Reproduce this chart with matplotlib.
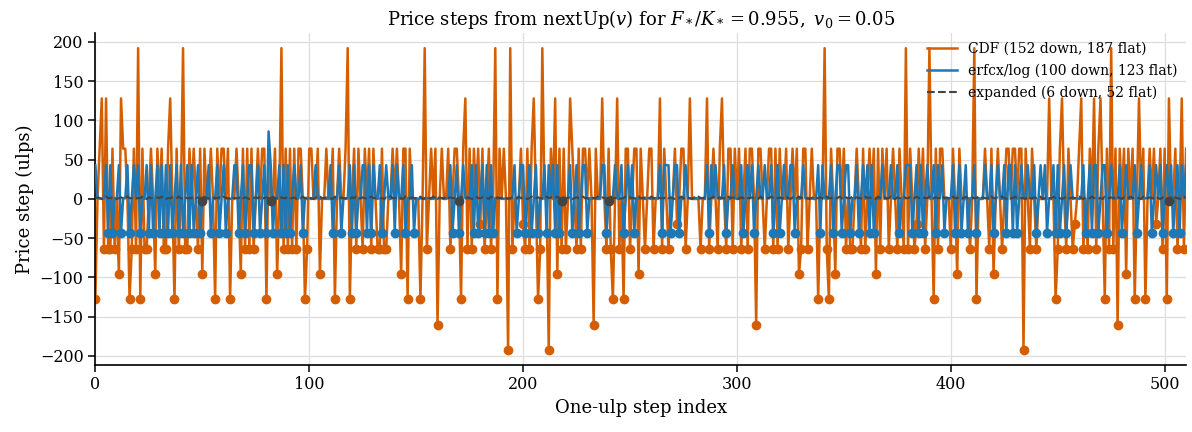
import numpy as np
import matplotlib
matplotlib.use("Agg")
import matplotlib.pyplot as plt

# step values in ulps, one per one-ulp step of v
cdf_steps = [
    -128, 0, 64, 128, -64, 128, -64, -64, 64, -64, 0, -96, 128, 64, 64, 0, -128, -64, 64, -64,
    192, -128, 64, -64, -64, 0, 64, 0, -96, 64, 0, 64, -64, -64, 64, 128, 0, -128, 64, -64,
    0, 192, -64,
    -64, 64, 0, 64, 0, -64, 64, -96, 64, 0, 0, 64, 0, -128, 64, 0, 64, 64, 0, 64,
    -128, 0, 0, 64, 0, -96, 64, -64, 64, -64, 64, -64, 0, 64, 0, 64, 64, -128, 64, 0, 0, 64, -96,
    0, 192, -64, 64, -64, 64, -64, 64, -64, 64, 64, 0, -128, -64, 64, 64, 0, 0, 64, -96,
    0, 0, 64, 0, 0, 64, -128, 0, 64, 0, 0, 64, 192, -128, 0, 64, -64, 64, 0, -64, 64, 0, 64,
    -64, 64, 0, -64, -64, 64, -64, -64, 0, 0, 64, 0, 64, 0, -96, 64, 64, -128, 64, 0,
    0, 0, 0, -128, 0, 192, -64, 0, 64, 0, 64, -160, 0, 64, 0, 0, 64, -64, 0, 64, 64, 0, -128,
    64, 128, -64, 64, -64, 64, 0, 64, -32, 64, -64, 0, 64, -64, 0, 192, -128, 64, 0, 64,
    0, -192, 192, -64, 0, 0, 0, 64, -32, -64, 64, -64, 64, 128, 0, -128, -64, 192, 0, 0, -192, 64, 0,
    128, -96, 64, -64, 64, -64, 0, 128, 64, 0, -64, 64, -64, 64, 64, 0, 64, 0, -160, 64,
    0, 0, 128, 0, -64, 64, -64, -128, 0, 128, -64, 0, -128, 64, 64, -64, 0, 64, 64, -96, 64, 0,
    -64, 0, 64, 64, -64, 0, 0, 128, -64, 64, 0, -64, 0, 0, 64, -32, 0, 64, 64, -64,
    0, 128, 0, 0, 0, 0, -64, 0, 0, 128, -64, 0, 64, 0, -64, 64, 128, 0, -64, 64, 64, -64,
    64, 0, 64, -64, 0, 64, -64, 64, 64, 0, -160, 64, 64, 0, -64, 0, 64, 64, -64, 64,
    -64, 64, 0, 0, 64, -64, 0, 64, 0, 64, -96, -64, 64, 64, -64, 0, 64, 0, 0, -128, 0, 0, 192, -64,
    -128, 64, 0, -96, 64, 64, 0, 64, -64, 0, -64, -64, 0, 64, 0, -64, 64, -64, 0, 64,
    0, 64, -96, 64, -64, 64, 0, 64, -64, 0, 64, 0, -64, 64, 0, -64, 192, -64, 64, 0, -64, -32,
    64, 0, 64, -64, 0, 192, 0, -128, 64, -64, 64, 64, 0, 0, 0, -64, 64, 0, -96, 64,
    0, 0, 0, 0, -64, 0, 192, -128, 0, 0, 0, 64, 0, -64, 64, -96, 0, 64, 0, -64, 0, 64,
    64, 0, 64, 64, 0, 64, 64, -192, 64, 0, -64, 64, 0, -64, 0, 0, 0, 0, 0, 128,
    0, 0, -128, -64, 64, 128, 0, -64, 64, 0, -64, -32, 0, 64, 128, -64, 0, -64, 64, 0, 128, -64, 64,
    128, 0, -128, 64, -64, 192, -64, 64, -160, 64, 0, 64, -96, 64, 0, 64, -128, 0, 128, 0,
    64, -128, 0, 64, 0, 64, -32, 0, 64, -64, 64, -128, 128, 0, 0, 64, -64, 0, 128, -64, 64,
]

erfcx_steps = [
    43, 1, 1, 0, 1, 43, -43, 43, -43, 1, 0, 43, -43, 1, 1, 43, -43, 1, 43, 0,
    43, -43, 1, 0, 43, -43, 43, -43, 1, 43, -43, 43, -43, 43, -43, 43, -43, 1, 43, -43,
    43, -43, 1, 43, -43, 43, -43, 1, 43, -43, 1, 0, 1, 43, -43, 1, 0, 43, -43, 1,
    43, -43, 1, 0, 1, 43, 43, -43, 1, 43, -43, 1, 43, 43, -43, 1, 43, -43, 1, 43,
    -43, 86, 43, -43, 1, 0, 43, -43, 43, -43, 43, -43, 1, 43, 0, 1, 43, -43, 1, 0,
    1, 0, 1, 43, 1, 0, 1, 1, 0, 1, 43, -43, 1, 0, 43, -43, 1, 0, 1, 43,
    -43, 43, -43, 1, 0, 43, 43, -43, 43, -43, 43, 1, 0, 43, -43, 1, 43, 1, 0, 43,
    -43, 43, 1, 0, 43, -43, 1, 0, 43, -43, 1, 0, 1, 1, 0, 1, 1, 0, 1, 1,
    0, 1, 1, 0, 1, 1, 43, -43, 1, 43, -43, 1, 43, 1, 0, 1, 43, -43, 43, -43,
    1, 43, -43, 43, -43, 43, -43, 1, 0, 1, 1, 0, 1, 1, 0, 1, 43, -43, 1, 43,
    43, -43, 1, 43, -43, 1, 43, -43, 1, 0, 43, -43, 43, 1, 43, -43, 43, -43, 1, 0,
    1, 1, 43, -43, 1, 43, -43, 1, 43, 43, -43, 1, 0, 1, 0, 1, 1, 43, 43, -43,
    1, 0, 1, 43, 1, 0, 43, -43, 1, 43, 0, 43, -43, 1, 0, 1, 1, 0, 1, 1,
    0, 1, 1, 1, 43, -43, 43, 43, 43, -43, 1, 43, 43, -43, 1, 0, 43, 1, 1, 0,
    1, 1, 0, 1, 1, 0, 43, -43, 43, 1, 43, 1, 0, 1, 43, -43, 1, 0, 43, 1,
    0, 1, 43, -43, 1, 43, 1, 43, -43, 1, 43, 1, 0, 43, 1, 1, 43, -43, 1, 43,
    -43, 1, 43, 0, 1, 43, 43, -43, 1, 0, 1, 43, 1, 0, 1, 1, 0, 1, 43, -43,
    43, 1, 0, 1, 43, -43, 1, 43, 43, -43, 1, 43, 43, -43, 1, 0, 43, -43, 1, 43,
    0, 43, -43, 43, -43, 1, 0, 1, 43, 1, 0, 1, 43, 1, 0, 43, -43, 1, 0, 43,
    43, 43, -43, 1, 43, -43, 43, -43, 1, 43, 1, 0, 43, -43, 43, 1, 43, -43, 1, 0,
    1, 43, -43, 1, 43, -43, 1, 43, -43, 1, 0, 43, -43, 1, 0, 1, 43, 1, 0, 43,
    -43, 1, 43, 1, 0, 43, -43, 43, 43, -43, 43, -43, 1, 43, 1, 0, 43, 1, 0, 43,
    -43, 1, 43, 0, 43, -43, 1, 0, 43, -43, 43, -43, 1, 43, -43, 1, 43, 0, 1, 1,
    0, 1, 43, -43, 1, 43, -43, 43, 43, -43, 1, 43, 43, -43, 1, 43, 0, 1, 1, 43,
    -43, 1, 43, 0, 1, 1, 43, -43, 1, 43, 0, 1, 1, 43, -43, 1, 43, 0, 43, -43,
    1, 43, 0, 43, -43, 1, 43, -43, 43, 1, 43,
]

expanded_steps = [
    1, 2, 1, 0, 1, 3, 1, 1, 2, 1, 0, 1, 2, 1, 1, 3, 1, 1, 2, 1,
    1, 1, 3, 1, 0, 2, 1, 1, 1, 2, 1, 3, 1, 0, 1, 1, 2, 1, 1, 3,
    1, 0, 2, 1, 1, 1, 3, 1, 2, 1, -2, 3, 1, 1, 0, 2, 1, 1, 2, 1,
    3, 1, 1, 0, 2, 1, 1, 1, 3, 1, 2, 1, 0, 1, 1, 2, 1, 3, 1, 1,
    2, 1, -2, 3, 1, 1, 0, 2, 1, 1, 3, 1, 1, 2, 0, 1, 1, 3, 1, 2,
    1, 1, 0, 2, 1, 3, 1, 1, 2, 1, 1, 0, 3, 1, 1, 2, 1, 1, 1, 0,
    2, 1, 3, 1, 1, 2, 1, 0, 1, 3, 1, 1, 2, 1, 1, 0, 2, 1, 3, 1,
    1, 2, 1, 1, 0, 3, 1, 1, 2, 1, 1, 1, 3, 0, 1, 2, 1, 1, 3, 1,
    0, 2, 1, 1, 3, 1, 2, 1, 1, 0, -2, 3, 1, 1, 2, 1, 0, 1, 3, 1,
    1, 2, 1, 1, 0, 3, 1, 1, 2, 1, 1, 3, 1, 0, 1, 2, 1, 1, 3, 1,
    2, 1, 0, 1, 3, 1, 1, 2, 1, 1, 0, 3, 1, 2, 1, 1, 3, 1, -2, 2,
    1, 1, 3, 0, 1, 2, 1, 1, 3, 1, 1, 0, 2, 1, 1, 3, 1, 2, 1, 1,
    -2, 3, 1, 1, 2, 0, 1, 1, 3, 1, 2, 1, 1, 0, 3, 1, 1, 2, 1, 1,
    3, 1, 0, 2, 1, 1, 1, 3, 1, 2, 1, 0, 1, 1, 3, 1, 2, 1, 1, 0,
    2, 1, 3, 1, 1, 2, 1, 0, 1, 3, 1, 1, 2, 1, 1, 0, 3, 1, 2, 1,
    1, 0, 2, 1, 3, 1, 1, 2, 1, 1, 0, 3, 1, 2, 1, 1, 3, 1, 0, 1,
    2, 1, 1, 3, 1, 0, 2, 1, 1, 3, 1, 2, 1, 1, 0, 1, 3, 1, 1, 2,
    1, 0, 3, 1, 1, 2, 1, 1, 3, 1, 0, 2, 1, 1, 3, 1, 2, 1, 1, 0,
    3, 1, 2, 1, 1, 0, 3, 1, 1, 2, 1, 1, 3, 1, 0, 2, 1, 1, 3, 1,
    1, 2, 0, 1, 3, 1, 1, 2, 1, 1, 3, 0, 1, 2, 1, 1, 3, 1, 2, 1,
    0, 3, 1, 1, 2, 1, 1, 3, 1, 0, 2, 1, 1, 3, 1, 2, 1, 1, 0, 3,
    1, 1, 2, 1, 3, 1, 0, 2, 1, 1, 3, 1, 2, 1, 1, 0, 3, 1, 1, 2,
    1, 1, 3, 0, 1, 2, 1, 1, 3, 1, 2, 1, 0, 1, 3, 1, 1, 2, 1, 1,
    3, 1, 0, 2, 1, 1, 3, 1, 2, 1, 1, 0, 3, 1, 1, 2, 1, 1, 3, 1,
    0, 2, 1, 1, 3, 1, 2, 1, 1, 0, 3, 1, 1, 2, 1, 1, 3, 1, 0, 2,
    1, 1, -2, 3, 1, 2, 1, 0, 1, 3, 1,
]

series_labels = ["CDF (152 down, 187 flat)",
                 "erfcx/log (100 down, 123 flat)",
                 "expanded (6 down, 52 flat)"]

plt.rcParams["font.family"] = ["DejaVu Serif"]
plt.rcParams["mathtext.fontset"] = "dejavuserif"

fig, ax = plt.subplots(figsize=(11.92, 4.32), dpi=100)
fig.subplots_adjust(left=0.080, right=0.995, top=0.923, bottom=0.156)

styles = [
    dict(color="#d55e00", lw=1.8, ls="-", zorder=2),
    dict(color="#1f77b4", lw=1.8, ls="-", zorder=3),
    dict(color="#444444", lw=1.5, ls="--", zorder=4),
]

for steps, label, st in zip([cdf_steps, erfcx_steps, expanded_steps], series_labels, styles):
    y = np.array(steps)
    x = np.arange(len(y))
    ax.plot(x, y, color=st["color"], lw=st["lw"], ls=st["ls"], zorder=st["zorder"], label=label)
    down = y < 0
    ax.plot(x[down], y[down], "o", color=st["color"], ms=6, zorder=st["zorder"])

ax.set_xlim(0, len(cdf_steps) - 1)
ax.set_ylim(-211, 211)
ax.set_yticks([-200, -150, -100, -50, 0, 50, 100, 150, 200])
ax.set_xticks([0, 100, 200, 300, 400, 500])
ax.grid(True, color="#dddddd", lw=0.9)
ax.set_axisbelow(True)
for s in ["top", "right"]:
    ax.spines[s].set_visible(False)
ax.spines["left"].set_linewidth(1.2)
ax.spines["bottom"].set_linewidth(1.2)
ax.tick_params(labelsize=11.5, length=5, width=1.1)

ax.set_xlabel("One-ulp step index", fontsize=13)
ax.set_ylabel("Price step (ulps)", fontsize=13)
ax.set_title(r"Price steps from nextUp($v$) for $F_*/K_* = 0.955,\ v_0 = 0.05$", fontsize=13)
ax.legend(loc="upper right", frameon=False, fontsize=10, handlelength=2.2,
          borderaxespad=0.2, labelspacing=0.55)

fig.savefig("out.png", dpi=100)
